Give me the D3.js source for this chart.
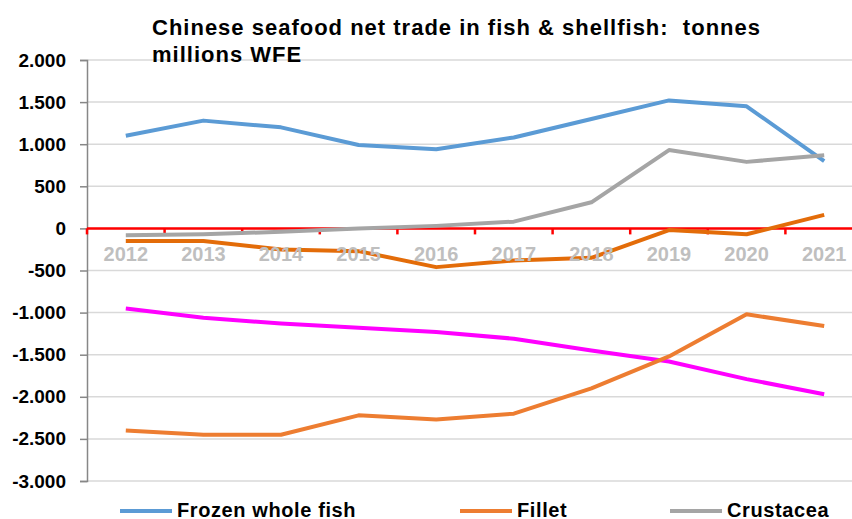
<!DOCTYPE html>
<html>
<head>
<meta charset="utf-8">
<script src="https://cdn.jsdelivr.net/npm/d3@7"></script>
<style>
  body { margin: 0; background: #fff; }
  svg { font-family: "Liberation Sans", Arial, sans-serif; font-weight: bold; }
</style>
</head>
<body>
<svg id="chart" width="852" height="519"></svg>
<script>
// years on the x axis
var years = ["2012", "2013", "2014", "2015", "2016", "2017", "2018", "2019", "2020", "2021"];

// net trade, thousand tonnes WFE
var frozenWholeFish = [1100, 1280, 1200, 990, 940, 1080, 1300, 1520, 1450, 800];
var fillet = [-150, -150, -250, -270, -460, -380, -350, -20, -70, 160];
var crustacea = [-80, -70, -40, 0, 30, 80, 310, 930, 790, 870];
var magentaSeries = [-950, -1060, -1130, -1180, -1230, -1310, -1450, -1580, -1790, -1970];
var lowerOrange = [-2400, -2450, -2450, -2220, -2270, -2200, -1900, -1520, -1020, -1160];

var yTicks = [2000, 1500, 1000, 500, 0, -500, -1000, -1500, -2000, -2500, -3000];

var svg = d3.select("#chart");

var x = d3.scaleBand().domain(years).range([87, 863]);
var y = d3.scaleLinear().domain([-3000, 2000]).range([481, 60]);

var loc = d3.formatLocale({ decimal: ",", thousands: ".", grouping: [3], currency: ["", ""], minus: "-" });
var fmt = loc.format(",d");

// gridlines
svg.append("g")
  .selectAll("line")
  .data(yTicks)
  .enter().append("line")
    .attr("x1", 87).attr("x2", 863)
    .attr("y1", function(d) { return y(d); })
    .attr("y2", function(d) { return y(d); })
    .attr("stroke", "#d9d9d9")
    .attr("stroke-width", 1.5);

// y axis
var yAxis = svg.append("g")
  .attr("transform", "translate(87,0)")
  .call(d3.axisLeft(y).tickValues(yTicks).tickFormat(fmt).tickSize(7).tickPadding(14));
yAxis.select(".domain").attr("stroke", "#878787").attr("stroke-width", 1.5);
yAxis.selectAll(".tick line").attr("stroke", "#878787").attr("stroke-width", 1.5);
yAxis.selectAll("text")
  .attr("font-size", 19)
  .attr("font-family", "Liberation Sans, Arial, sans-serif")
  .attr("font-weight", "bold")
  .attr("fill", "#000");

// red zero line with downward ticks at category boundaries
svg.append("line")
  .attr("x1", 87).attr("x2", 863)
  .attr("y1", y(0)).attr("y2", y(0))
  .attr("stroke", "#ff0000")
  .attr("stroke-width", 2.5);
svg.append("g")
  .selectAll("line")
  .data(years)
  .enter().append("line")
    .attr("x1", function(d) { return x(d); })
    .attr("x2", function(d) { return x(d); })
    .attr("y1", y(0)).attr("y2", y(0) + 6)
    .attr("stroke", "#ff0000")
    .attr("stroke-width", 2.5);

// series
var series = [
  { values: frozenWholeFish, color: "#5b9bd5" },
  { values: crustacea, color: "#a5a5a5" },
  { values: fillet, color: "#e36c09" },
  { values: magentaSeries, color: "#ff00ff" },
  { values: lowerOrange, color: "#ed7d31" }
];

var line = d3.line()
  .x(function(d, i) { return x(years[i]) + x.bandwidth() / 2; })
  .y(function(d) { return y(d); });

svg.append("g")
  .selectAll("path")
  .data(series)
  .enter().append("path")
    .attr("d", function(d) { return line(d.values); })
    .attr("fill", "none")
    .attr("stroke", function(d) { return d.color; })
    .attr("stroke-width", 4)
    .attr("stroke-linejoin", "round");

// year labels sit just under the zero line, over the lines
svg.append("g")
  .selectAll("text")
  .data(years)
  .enter().append("text")
    .attr("x", function(d) { return x(d) + x.bandwidth() / 2; })
    .attr("y", 261)
    .attr("text-anchor", "middle")
    .attr("font-size", 20)
    .attr("fill", "#bfbfbf")
    .text(function(d) { return d; });

// title
var title = svg.append("text")
  .attr("x", 152)
  .attr("y", 35)
  .attr("font-size", 22)
  .attr("letter-spacing", 1)
  .style("white-space", "pre")
  .attr("fill", "#000");
title.append("tspan").attr("x", 152).text("Chinese seafood net trade in fish & shellfish:  tonnes");
title.append("tspan").attr("x", 152).attr("y", 62).text("millions WFE");

// legend
var legendItems = [
  { name: "Frozen whole fish", color: "#5b9bd5", x: 120 },
  { name: "Fillet", color: "#ed7d31", x: 460 },
  { name: "Crustacea", color: "#a5a5a5", x: 670 }
];
var lg = svg.append("g")
  .selectAll("g")
  .data(legendItems)
  .enter().append("g")
    .attr("transform", function(d) { return "translate(" + d.x + ",511)"; });
lg.append("line")
  .attr("x1", 0).attr("x2", 52)
  .attr("stroke", function(d) { return d.color; })
  .attr("stroke-width", 4);
lg.append("text")
  .attr("x", 57)
  .attr("y", 6)
  .attr("font-size", 20)
  .attr("letter-spacing", 0.6)
  .attr("fill", "#000")
  .text(function(d) { return d.name; });
</script>
</body>
</html>
